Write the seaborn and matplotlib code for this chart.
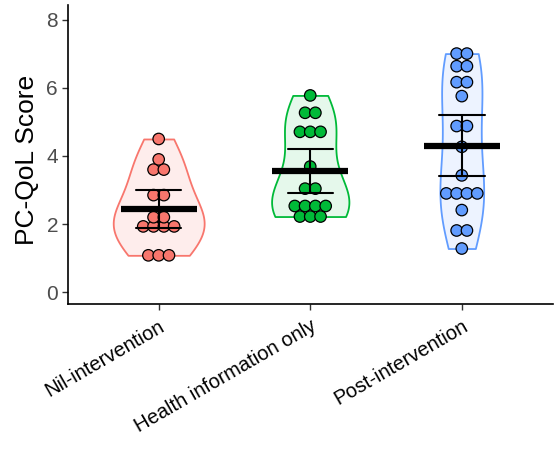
import numpy as np
import pandas as pd
import matplotlib
matplotlib.use("Agg")
import matplotlib.pyplot as plt
import seaborn as sns

categories = ["Nil-intervention", "Health information only", "Post-intervention"]
nil_scores = [4.5, 3.9, 3.6, 3.6, 2.85, 2.85, 2.2, 2.2, 1.93, 1.93, 1.93, 1.93, 1.08, 1.08, 1.08]
health_scores = [5.78, 5.27, 5.27, 4.71, 4.71, 4.71, 3.69, 3.04, 3.04,
                 2.53, 2.53, 2.53, 2.53, 2.22, 2.22, 2.22]
post_scores = [7.01, 7.01, 6.64, 6.64, 6.17, 6.17, 5.76, 4.88, 4.88, 4.27, 3.43,
               2.90, 2.90, 2.90, 2.90, 2.41, 1.81, 1.81, 1.28]
edge_colors = ["#F8766D", "#00BA38", "#619CFF"]
fill_colors = ["#FEEDEC", "#E5F8EB", "#EDF3FF"]
dot_colors = ["#F8766D", "#00BA38", "#619CFF"]

sns.set_theme(style="white")
plt.rcParams["font.family"] = ["Liberation Sans", "DejaVu Sans"]

groups = [nil_scores, health_scores, post_scores]
df = pd.DataFrame({
    "group": np.concatenate([[c] * len(v) for c, v in zip(categories, groups)]),
    "score": np.concatenate(groups),
})

fig = plt.figure(figsize=(5.6, 4.49), dpi=100)
ax = fig.add_axes([0.121, 0.323, 0.866, 0.666])

sns.violinplot(data=df, x="group", y="score", hue="group", order=categories,
               hue_order=categories, palette=fill_colors, cut=0, inner=None,
               density_norm="area", common_norm=True, width=0.6, bw_adjust=1.15,
               linewidth=1.3, legend=False, ax=ax)
polys = [c for c in ax.collections]
for poly, fc, ec in zip(polys, fill_colors, edge_colors):
    poly.set_facecolor(fc)
    poly.set_edgecolor(ec)
    poly.set_linewidth(1.3)

# centered dot stacks (dotplot-like)
step = 0.068
xs, ys, cs = [], [], []
for i, vals in enumerate(groups):
    uniq, counts = np.unique(vals, return_counts=True)
    for u, n in zip(uniq, counts):
        for k in range(n):
            xs.append(i + (k - (n - 1) / 2) * step)
            ys.append(u)
            cs.append(categories[i])
dots = pd.DataFrame({"x": xs, "y": ys, "group": cs})
sns.scatterplot(data=dots, x="x", y="y", hue="group", hue_order=categories,
                palette=dot_colors, s=68, edgecolor="black", linewidth=0.9,
                legend=False, zorder=3, ax=ax)

sns.pointplot(data=df, x="group", y="score", order=categories, color="black",
              errorbar=("se", 2), capsize=0.3, markers="_", linestyles="none",
              markersize=55, markeredgewidth=4.5, err_kws={"linewidth": 1.5},
              ax=ax)
for ln in ax.lines:
    ln.set_zorder(4)

ax.set_xlim(-0.6, 2.6)
ax.set_ylim(-0.35, 8.44)
ax.set_yticks([0, 2, 4, 6, 8])
ax.set_xticks(range(3))
ax.set_xticklabels(categories, rotation=30, ha="right", rotation_mode="anchor",
                   fontsize=14.5, color="black")
ax.tick_params(axis="y", labelsize=15, labelcolor="#4D4D4D", length=4,
               width=1, color="#333333", left=True, pad=3)
ax.tick_params(axis="x", length=4, width=1, color="#333333", bottom=True, pad=5)
ax.set_xlabel("")
ax.set_ylabel("PC-QoL Score", fontsize=19, color="black")
ax.yaxis.set_label_coords(-0.06, 0.48)
for side in ["top", "right"]:
    ax.spines[side].set_visible(False)
for side in ["left", "bottom"]:
    ax.spines[side].set_color("black")
    ax.spines[side].set_linewidth(1.2)
ax.grid(False)

fig.savefig("out.png", dpi=100)
